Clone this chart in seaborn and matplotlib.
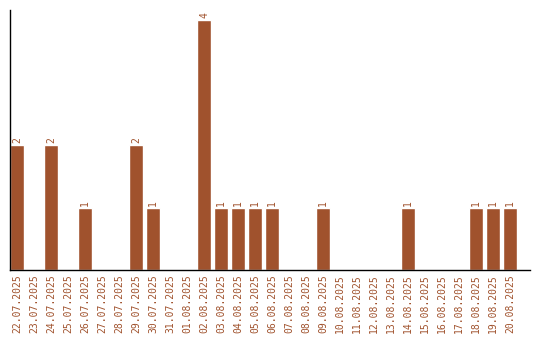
import matplotlib
matplotlib.use("Agg")
import matplotlib.pyplot as plt
import seaborn as sns
import pandas as pd

dates = ["22.07.2025", "23.07.2025", "24.07.2025", "25.07.2025", "26.07.2025",
         "27.07.2025", "28.07.2025", "29.07.2025", "30.07.2025", "31.07.2025",
         "01.08.2025", "02.08.2025", "03.08.2025", "04.08.2025", "05.08.2025",
         "06.08.2025", "07.08.2025", "08.08.2025", "09.08.2025", "10.08.2025",
         "11.08.2025", "12.08.2025", "13.08.2025", "14.08.2025", "15.08.2025",
         "16.08.2025", "17.08.2025", "18.08.2025", "19.08.2025", "20.08.2025"]
counts = [2, 0, 2, 0, 1, 0, 0, 2, 1, 0,
          0, 4, 1, 1, 1, 1, 0, 0, 1, 0,
          0, 0, 0, 1, 0, 0, 0, 1, 1, 1]

color = "#A0522D"
df = pd.DataFrame({"date": dates, "count": counts})

sns.set_style("white")
plt.rcParams["font.family"] = ["DejaVu Sans Mono", "DejaVu Sans"]

fig = plt.figure(figsize=(5.4, 3.4), dpi=100)
ax = fig.add_axes([10/540, 70/340, 520/540, 260/340])
bw = 14/17
sns.barplot(data=df, x="date", y="count", color=color, saturation=1,
            width=bw, ax=ax)
left = -bw / 2
ax.set_xlim(left, left + 520/17)
ax.set_ylim(0, 4.16)
ax.set_xlabel("")
ax.set_ylabel("")
ax.set_yticks([])
ax.tick_params(axis="x", length=0, pad=3, labelsize=7, labelcolor=color)
for lab in ax.get_xticklabels():
    lab.set_rotation(90)
for s in ["top", "right"]:
    ax.spines[s].set_visible(False)
for s in ["left", "bottom"]:
    ax.spines[s].set_color("black")
    ax.spines[s].set_linewidth(1)

for i, v in enumerate(counts):
    if v > 0:
        ax.text(i, v + 0.03, str(v), rotation=90, ha="center", va="bottom",
                fontsize=7, color=color)

fig.savefig("out.png", dpi=100)
